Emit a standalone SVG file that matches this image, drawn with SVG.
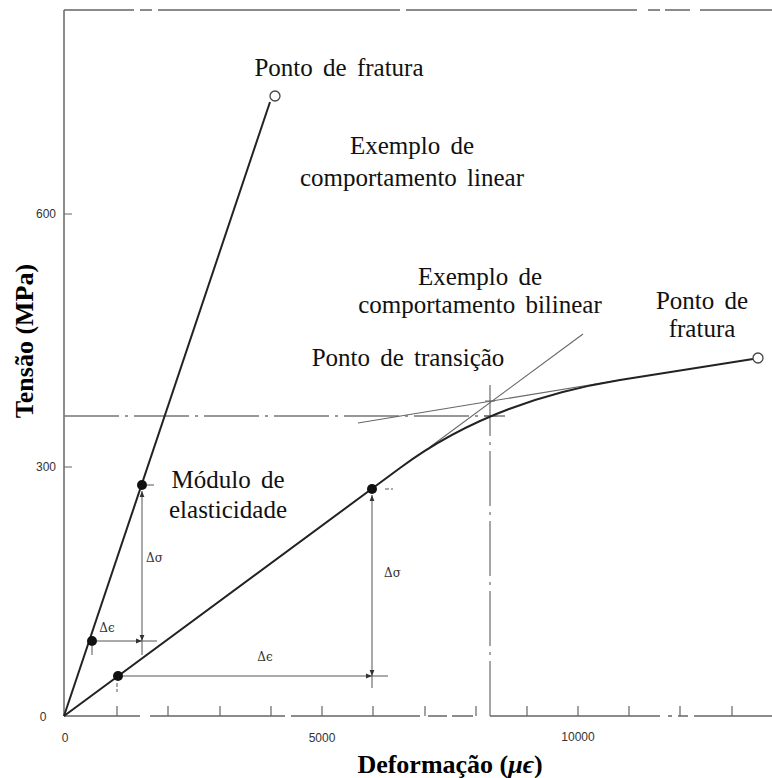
<svg xmlns="http://www.w3.org/2000/svg" width="772" height="778" viewBox="0 0 772 778">
<defs>
<marker id="ah" viewBox="0 0 10 10" refX="10" refY="5" markerWidth="6" markerHeight="6" orient="auto-start-reverse" markerUnits="userSpaceOnUse">
<path d="M0,1 L10,5 L0,9 z" fill="#333"/>
</marker>
<style>
.lbl{font-family:"Liberation Serif","Times New Roman",serif;font-size:25px;fill:#111;word-spacing:4px}
.ttl{font-family:"Liberation Serif","Times New Roman",serif;font-size:26px;font-weight:bold;fill:#000}
.num{font-family:"Liberation Sans",Arial,sans-serif;font-size:12px;fill:#333}
.sm{font-family:"DejaVu Serif","Liberation Serif",serif;font-size:12px;fill:#333}
.axis{stroke:#666;stroke-width:1.5;fill:none}
.tick{stroke:#666;stroke-width:1.2;fill:none}
.curve{stroke:#222;stroke-width:2;fill:none}
.thin{stroke:#666;stroke-width:1.1;fill:none}
.dash{stroke:#777;stroke-width:1.3;fill:none;stroke-dasharray:55 6 3 6}
.dim{stroke:#555;stroke-width:1;fill:none}
.dot{fill:#111}
.open{fill:#fff;stroke:#444;stroke-width:1.3}
</style>
</defs>
<g id="axes">
<path class="axis" d="M64,10 V716"/>
<path class="axis" d="M64,10 H134 M140,10 H152 M158,10 H400 M406,10 H637 M648,10 H660 M665,10 H690 M700,10 H772"/>
<path class="axis" d="M64,716 H140 M150,716 H285 M291,716 H420 M428,716 H447 M452,716 H473 M490,716 H660 M668,716 H672 M678,716 H688 M694,716 H772"/>
<path class="tick" d="M64,214 H72 M64,467 H72 M117,706 V716 M168,706 V716 M220,706 V716 M271,706 V716 M322,706 V716 M373,706 V716 M425,706 V716 M476,706 V716 M527,706 V716 M578,706 V716 M629,706 V716 M680,706 V716 M732,706 V716"/>
<text class="num" x="46" y="218" text-anchor="middle">600</text>
<text class="num" x="46" y="471" text-anchor="middle">300</text>
<text class="num" x="43" y="721" text-anchor="middle">0</text>
<text class="num" x="65" y="742" text-anchor="middle">0</text>
<text class="num" x="322" y="742" text-anchor="middle">5000</text>
<text class="num" x="578" y="741" text-anchor="middle">10000</text>
<text class="ttl" x="450" y="773" text-anchor="middle">Deformação (<tspan font-style="italic">μϵ</tspan>)</text>
<text class="ttl" transform="translate(33,341) rotate(-90)" text-anchor="middle">Tensão (MPa)</text>
</g>
<g id="connectors">
<path class="dash" d="M64,416 H505"/>
<path class="dash" d="M490,716 V385"/>
<path class="thin" d="M430,447 L583,334"/>
<path class="thin" d="M358,423 L620,380"/>
<path class="tick" d="M485,401 H495 M484,416 H497"/>
<path class="curve" d="M64,716 L270,102"/>
<path class="curve" d="M64,716 L400,468 Q490,401 620,380 L753,359"/>
</g>
<g id="linear-fracture"><circle class="open" cx="275" cy="96" r="5"/></g>
<g id="bilinear-fracture"><circle class="open" cx="758" cy="358" r="5"/></g>
<g id="linear-delta">
<circle class="dot" cx="92" cy="641" r="5"/>
<circle class="dot" cx="142" cy="485" r="5"/>
<path class="dim" d="M97,641 H142" marker-end="url(#ah)"/>
<path class="dim" d="M142,641 H157"/>
<path class="dim" d="M142,491 V641" marker-start="url(#ah)" marker-end="url(#ah)"/>
<path class="dim" d="M142,641 V655"/>
<path class="dim" d="M92,646 V655 M147,485 H154"/>
<text class="sm" x="146" y="562">Δσ</text>
<text class="sm" x="107" y="632" text-anchor="middle">Δϵ</text>
</g>
<g id="bilinear-delta">
<circle class="dot" cx="118" cy="676" r="5"/>
<circle class="dot" cx="372" cy="489" r="5"/>
<path class="dim" d="M123,676 H372" marker-end="url(#ah)"/>
<path class="dim" d="M372,676 H388"/>
<path class="dim" d="M372,495 V676" marker-start="url(#ah)" marker-end="url(#ah)"/>
<path class="dim" d="M372,676 V688"/>
<path class="dim" d="M117,683 V692 M385,489 H393" stroke-dasharray="4 2"/>
<text class="sm" x="384" y="577">Δσ</text>
<text class="sm" x="265" y="661" text-anchor="middle">Δϵ</text>
</g>
<g id="label-fratura-linear"><text class="lbl" x="339" y="76" text-anchor="middle">Ponto de fratura</text></g>
<g id="label-linear"><text class="lbl" x="412" y="154" text-anchor="middle">Exemplo de</text><text class="lbl" x="412" y="186" text-anchor="middle">comportamento linear</text></g>
<g id="label-bilinear"><text class="lbl" x="480" y="285" text-anchor="middle">Exemplo de</text><text class="lbl" x="480" y="313" text-anchor="middle">comportamento bilinear</text></g>
<g id="label-fratura-bilinear"><text class="lbl" x="702" y="309" text-anchor="middle">Ponto de</text><text class="lbl" x="702" y="337" text-anchor="middle">fratura</text></g>
<g id="label-transicao"><text class="lbl" x="408" y="366" text-anchor="middle">Ponto de transição</text></g>
<g id="label-modulo"><text class="lbl" x="228" y="488" text-anchor="middle">Módulo de</text><text class="lbl" x="228" y="518" text-anchor="middle">elasticidade</text></g>
</svg>
